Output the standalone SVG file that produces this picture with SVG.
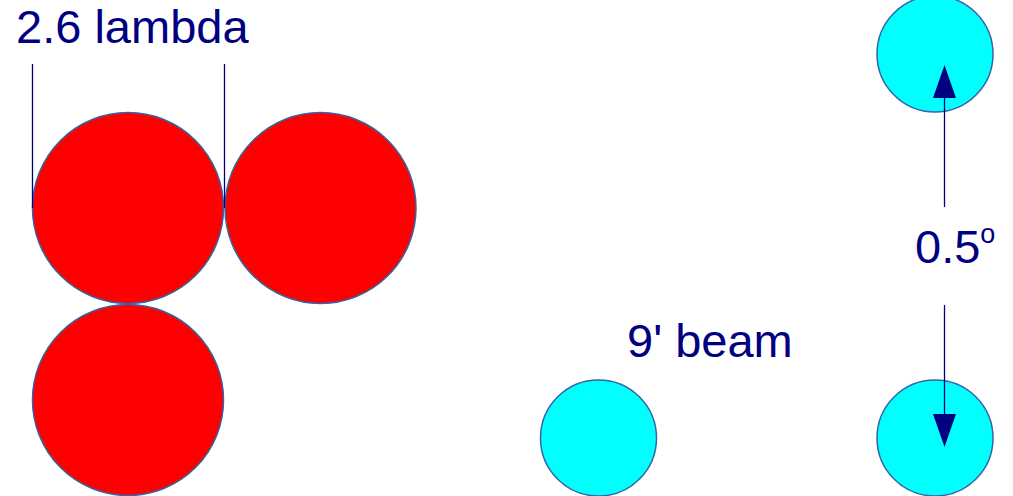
<svg xmlns="http://www.w3.org/2000/svg" width="1013" height="496" viewBox="0 0 1013 496">
<style>
.red{fill:#ff0000;stroke:#3465a4;stroke-width:1.5}
.cyan{fill:#00ffff;stroke:#3465a4;stroke-width:1.5}
.lbl{font-family:"Liberation Sans",Arial,sans-serif;font-size:47px;fill:#000080}
.ln{stroke:#000080;stroke-width:1.3;fill:none}
.head{fill:#000080}
</style>
<rect width="1013" height="496" fill="#ffffff"/>
<g id="red1"><circle class="red" cx="128" cy="208" r="95.5"/></g>
<g id="red2"><circle class="red" cx="320.5" cy="208" r="95.5"/></g>
<g id="red3"><circle class="red" cx="128" cy="400" r="95.5"/></g>
<g id="cyan-top"><circle class="cyan" cx="935" cy="54" r="58"/></g>
<g id="cyan-left"><circle class="cyan" cx="598.5" cy="438" r="58"/></g>
<g id="cyan-bottom"><circle class="cyan" cx="935" cy="438" r="58"/></g>
<g id="connectors">
<line class="ln" x1="32.5" y1="64" x2="32.5" y2="208"/>
<line class="ln" x1="224.5" y1="64" x2="224.5" y2="208"/>
<line class="ln" x1="944.5" y1="207" x2="944.5" y2="97"/>
<polygon class="head" points="944.5,65 933,98 956,98"/>
<line class="ln" x1="944.5" y1="305" x2="944.5" y2="415"/>
<polygon class="head" points="944.5,447 933,414 956,414"/>
</g>
<g id="label-lambda"><text class="lbl" x="16" y="43">2.6 lambda</text></g>
<g id="label-beam"><text class="lbl" x="627" y="357">9' beam</text></g>
<g id="label-angle"><text class="lbl" x="915" y="263">0.5<tspan font-size="27" dy="-20">o</tspan></text></g>
</svg>
